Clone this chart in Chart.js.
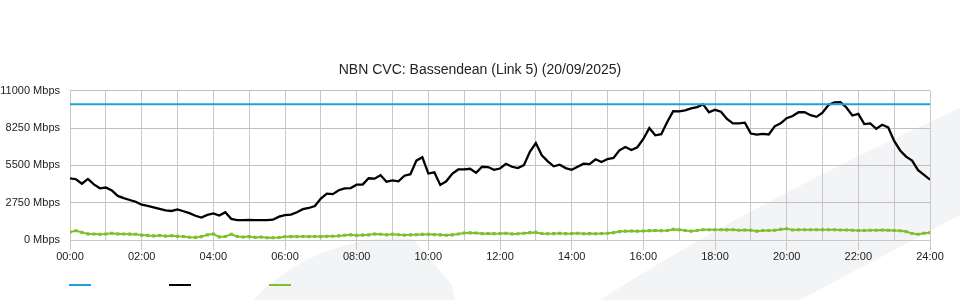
<!DOCTYPE html>
<html>
<head>
<meta charset="utf-8">
<script src="https://cdn.jsdelivr.net/npm/chart.js@4/dist/chart.umd.min.js"></script>
<style>
  html, body { margin: 0; padding: 0; background: #fff; }
  #wrap { position: relative; width: 960px; height: 300px; }
  canvas { display: block; }
  .lg { position: absolute; top: 284px; width: 22px; height: 2px; }
</style>
</head>
<body>
<div id="wrap">
  <canvas id="c" width="960" height="300"></canvas>
  <div class="lg" style="left:69px;background:#1fa0dc"></div>
  <div class="lg" style="left:169px;background:#000"></div>
  <div class="lg" style="left:269px;background:#7fbf2e"></div>
</div>
<script>
const chartTitle = 'NBN CVC: Bassendean (Link 5) (20/09/2025)';
const yTicks = [0, 2750, 5500, 8250, 11000];
const xTickHours = [0, 2, 4, 6, 8, 10, 12, 14, 16, 18, 20, 22, 24];
const sampleMinutes = 10;

// Capacity (blue)
const capacityHours = [0, 24];
const capacity = [10000, 10000];

// Traffic (black), 10-minute samples from 00:00 to 24:00
const traffic = [
  4550, 4480, 4150, 4500, 4100, 3810, 3870, 3650, 3250, 3090,
  2950, 2820, 2600, 2520, 2400, 2290, 2190, 2140, 2250, 2120,
  1980, 1790, 1650, 1850, 1960, 1800, 2050, 1560, 1460, 1470,
  1480, 1460, 1460, 1470, 1500, 1720, 1840, 1870, 2050, 2270,
  2360, 2500, 3050, 3420, 3380, 3670, 3800, 3830, 4080, 4080,
  4550, 4520, 4770, 4300, 4400, 4330, 4740, 4850, 5850, 6100,
  4900, 4990, 4060, 4330, 4880, 5200, 5200, 5250, 4950, 5400,
  5380, 5170, 5270, 5620, 5400, 5300, 5520, 6500, 7150, 6250,
  5800, 5430, 5550, 5300, 5170, 5400, 5630, 5600, 5950, 5750,
  5970, 6050, 6610, 6850, 6630, 6840, 7450, 8250, 7720, 7800,
  8700, 9500, 9480, 9560, 9700, 9800, 10000, 9420, 9600, 9460,
  8930, 8600, 8600, 8650, 7850, 7770, 7830, 7780, 8380, 8600,
  8980, 9140, 9420, 9420, 9200, 9080, 9380, 9950, 10150, 10170,
  9770, 9180, 9300, 8550, 8600, 8200, 8500, 8300, 7300, 6600,
  6150, 5850, 5150, 4800, 4450
];

// Upload / other (green), 10-minute samples
const upload = [
  580, 680, 560, 450, 440, 420, 440, 500, 450, 440,
  430, 420, 360, 340, 300, 330, 290, 310, 280, 260,
  200, 190, 250, 380, 440, 230, 260, 420, 260, 220,
  250, 190, 220, 170, 170, 180, 240, 250, 250, 260,
  250, 260, 250, 270, 280, 300, 350, 380, 340, 360,
  380, 440, 420, 380, 420, 390, 360, 380, 390, 410,
  420, 400, 380, 350, 380, 440, 520, 530, 520, 470,
  480, 470, 480, 500, 450, 460, 500, 540, 560, 480,
  460, 470, 490, 470, 480, 500, 460, 470, 460, 480,
  500, 540, 620, 650, 660, 650, 660, 690, 700, 690,
  700, 780, 760, 700, 650, 700, 760, 760, 760, 760,
  750, 760, 720, 740, 720, 650, 700, 700, 720, 780,
  830, 740, 760, 760, 760, 760, 760, 760, 760, 740,
  740, 720, 700, 700, 720, 720, 740, 720, 700, 680,
  620, 480, 420, 500, 540
];

const toPoints = (vals) => vals.map((v, i) => ({ x: i * sampleMinutes / 60, y: v }));
const pad2 = (n) => (n < 10 ? '0' : '') + n;

const watermark = {
  id: 'watermark',
  beforeDraw(chart) {
    const ctx = chart.ctx;
    ctx.save();
    ctx.fillStyle = '#f3f4f6';
    ctx.beginPath();
    ctx.moveTo(600, 300);
    ctx.bezierCurveTo(700, 236, 820, 172, 960, 108);
    ctx.lineTo(960, 215);
    ctx.lineTo(800, 300);
    ctx.closePath();
    ctx.fill();
    ctx.beginPath();
    ctx.moveTo(253, 300);
    ctx.quadraticCurveTo(300, 250, 375, 239);
    ctx.quadraticCurveTo(400, 236, 413, 239);
    ctx.lineTo(452, 285);
    ctx.lineTo(455, 300);
    ctx.closePath();
    ctx.fill();
    ctx.restore();
  }
};

const FONT = 'Liberation Sans, Arial, sans-serif';

new Chart(document.getElementById('c'), {
  type: 'line',
  data: {
    datasets: [
      {
        data: capacityHours.map((h, i) => ({ x: h, y: capacity[i] })),
        borderColor: '#1fa0dc', borderWidth: 2, pointRadius: 0, tension: 0
      },
      {
        data: toPoints(traffic),
        borderColor: '#000', borderWidth: 2.3, pointRadius: 0, tension: 0
      },
      {
        data: toPoints(upload),
        borderColor: '#7fbf2e', backgroundColor: '#7fbf2e', borderWidth: 2,
        pointRadius: 0.8, pointStyle: 'rect', tension: 0
      }
    ]
  },
  options: {
    responsive: false,
    animation: false,
    events: [],
    layout: { padding: 0 },
    plugins: {
      legend: { display: false },
      tooltip: { enabled: false },
      title: {
        display: true, text: chartTitle, color: '#222',
        font: { family: FONT, size: 14, weight: 'normal' },
        padding: { top: 62, bottom: 12 }
      }
    },
    scales: {
      x: {
        type: 'linear', min: 0, max: 24,
        afterBuildTicks(scale) {
          const t = [];
          for (let h = 0; h <= 24; h++) t.push({ value: h });
          scale.ticks = t;
        },
        afterFit(scale) { scale.height = 60; },
        ticks: {
          autoSkip: false, maxRotation: 0, padding: 0, color: '#222',
          font: { family: FONT, size: 11 },
          callback: (v) => (xTickHours.includes(v) ? pad2(v) + ':00' : '')
        },
        grid: {
          color: '#c8c8c8', lineWidth: 1, tickLength: 10,
          tickColor: (c) => (c.tick && xTickHours.includes(c.tick.value) ? '#c8c8c8' : 'rgba(0,0,0,0)')
        },
        border: { color: '#c8c8c8' }
      },
      y: {
        min: 0, max: 11000,
        afterBuildTicks(scale) { scale.ticks = yTicks.map(v => ({ value: v })); },
        afterFit(scale) { scale.width = 70; },
        ticks: {
          padding: 10, color: '#222',
          font: { family: FONT, size: 11 },
          callback: (v) => v + ' Mbps'
        },
        grid: { color: '#c0c0c0', lineWidth: 1, drawTicks: false },
        border: { color: '#c8c8c8' }
      },
      yRight: {
        position: 'right', min: 0, max: 11000,
        afterFit(scale) { scale.width = 30; },
        ticks: { display: false },
        grid: { display: false, drawTicks: false },
        border: { display: false }
      }
    }
  },
  plugins: [watermark]
});
</script>
</body>
</html>
